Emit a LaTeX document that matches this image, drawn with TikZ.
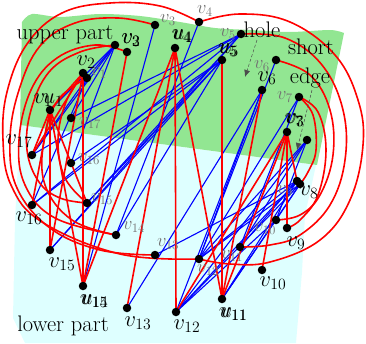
\documentclass[tikz,border=0pt]{standalone}
\usepackage{fix-cm}
\usetikzlibrary{arrows.meta}
\definecolor{gup}{RGB}{146,230,146}
\definecolor{clow}{RGB}{222,255,255}
\begin{document}
\begin{tikzpicture}[x=1pt,y=-1pt,
  dot/.style={circle,fill=black,inner sep=0pt,minimum size=8.5pt},
  bl/.style={font=\fontsize{22.5}{25}\selectfont,inner sep=0pt},
  sl/.style={font=\fontsize{18.5}{20}\selectfont,inner sep=0pt,text=black!55},
  txt/.style={font=\fontsize{22.5}{25}\selectfont,inner sep=0pt},
  be/.style={blue,line width=1.1pt},
  re/.style={red,line width=1.6pt},
  arc/.style={red,line width=1.6pt,smooth,tension=0.65},
  pointer/.style={densely dashed,line width=0.5pt,black!70,-{Latex[length=7pt,width=6pt]}}]
\useasboundingbox (0,0) rectangle (366,343);
% regions
\fill[clow] (20,125) -- (316,165) -- (305,215) -- (302,272) -- (296,343) -- (25,343) -- (13,318) -- (15,220) -- cycle;
\fill[gup] plot[smooth,tension=0.5] coordinates {(22,22) (32,14) (60,17) (100,14) (140,16) (180,22) (215,28) (250,30) (290,32) (330,30) (344,33)} -- (317,165) -- (20,125) -- cycle;
% coordinates of vertices
\coordinate (B1) at (50,110);
\coordinate (B2) at (83,73);
\coordinate (B3) at (115,45);
\coordinate (U4) at (175,48);
\coordinate (B5) at (222,60);
\coordinate (B6) at (262,90);
\coordinate (B7) at (287,132);
\coordinate (B8) at (297,181);
\coordinate (B9) at (287,228);
\coordinate (B10) at (262,270);
\coordinate (B11) at (222,299);
\coordinate (B12) at (176,312);
\coordinate (B13) at (127,308);
\coordinate (B14) at (83,286);
\coordinate (B15) at (50,250);
\coordinate (B16) at (32,205);
\coordinate (B17) at (32,155);
\coordinate (S1) at (87,78);
\coordinate (S2) at (127,52);
\coordinate (S3) at (155,25);
\coordinate (S4) at (199,22);
\coordinate (S5) at (241,34);
\coordinate (S6) at (276,60);
\coordinate (S7) at (299,97);
\coordinate (S8) at (307,140);
\coordinate (S9) at (300,184);
\coordinate (S10) at (276,220);
\coordinate (S11) at (240,247);
\coordinate (S12) at (199,259);
\coordinate (S13) at (155,255);
\coordinate (S14) at (116,235);
\coordinate (S15) at (87,203);
\coordinate (S16) at (71,163);
\coordinate (S17) at (71,118);
% blue edges
\foreach \a/\b in {B3/S1,B3/B1,B3/S17,B3/B17,B3/S16,S1/B17,S1/B16,S3/B14,S4/S14,
  B5/S16,B5/B16,B5/S15,B5/B15,B5/S14,S5/S17,S5/B17,S5/S15,S5/B15,S5/B16,
  S6/S12,B6/B12,B6/S12,S7/S12,S7/S11,B8/S12,B8/S11,B8/B11,B8/B12,B8/S13,
  S8/S12,S8/B12,S8/S11,S8/S10,S9/B12,S9/S12,S9/S10,B13/B6,B12/S10,B11/S10,B11/S9}
  \draw[be] (\a) -- (\b);
% red straight edges
\foreach \a/\b in {B1/B17,B1/B16,B1/B15,B1/B14,B1/S15,B2/B17,B2/B15,B2/B14,B2/B1,S2/B14,
  U4/B14,U4/B13,U4/B12,U4/B11,B5/B11,B6/B11,B7/B8,B7/B9,B7/B10,B7/B11,B7/B12}
  \draw[re] (\a) -- (\b);
% red curves bowing left from v2
\draw[arc] plot coordinates {(B2) (66,102) (58,140) (65,178) (S15)};
\draw[arc] plot coordinates {(S1) (58,100) (44,140) (45,185) (72,220) (S14)};
% red arcs round the left
\draw[arc] plot coordinates {(S4) (160,6) (110,3) (62,13) (27,44) (7,92) (3,140) (11,185) (42,222) (120,254) (S12)};
\draw[arc] plot coordinates {(S3) (118,18) (75,23) (40,46) (19,90) (10,140) (17,188) (50,228) (100,250) (S13)};
\draw[arc] plot coordinates {(S2) (95,45) (57,58) (31,90) (19,140) (25,185) (55,218) (S14)};
\draw[arc] plot coordinates {(B3) (80,52) (49,72) (31,110) (27,150) (39,182) (60,198) (S15)};
% red arcs round the right
\draw[arc] plot coordinates {(S4) (240,14) (290,22) (335,55) (358,100) (363,145) (350,200) (320,240) (270,262) (230,264) (S12)};
\draw[arc] plot coordinates {(S5) (285,38) (322,65) (343,110) (345,160) (330,205) (300,235) (270,245) (S11)};
\draw[arc] plot coordinates {(S6) (310,75) (330,110) (333,155) (320,195) (300,215) (S10)};
\draw[arc] plot coordinates {(S7) (318,112) (326,150) (318,195) (300,220) (B9)};
\draw[arc] plot coordinates {(S7) (313,115) (316,150) (308,172) (S9)};
% pointers
\coordinate (hp) at (257,40);
\coordinate (ha) at (245,77);
\draw[pointer] (hp) -- (ha);
\coordinate (ep) at (312,90);
\coordinate (ea) at (297,150);
\draw[pointer] (ep) -- (ea);
% dots
\foreach \n in {B1,B2,B3,U4,B5,B6,B7,B8,B9,B10,B11,B12,B13,B14,B15,B16,B17,
  S1,S2,S3,S4,S5,S6,S7,S8,S9,S10,S11,S12,S13,S14,S15,S16,S17}
  \node[dot] (d\n) at (\n) {};
% small labels
\node[sl] (lS1) at (99,73) {$v_1$};
\node[sl] (lS3) at (168,20) {$v_3$};
\node[sl] (lS4) at (205,11) {$v_4$};
\node[sl] (lS5) at (228,34) {$v_5$};
\node[sl] (lS6) at (262,66) {$v_6$};
\node[sl] (lS7) at (285,97) {$v_7$};
\node[sl] (lS9) at (285,191) {$v_9$};
\node[sl] (lS10) at (265,229) {$v_{10}$};
\node[sl] (lS11) at (232,256) {$v_{11}$};
\node[sl] (lS12) at (208,270) {$v_{12}$};
\node[sl] (lS13) at (168,244) {$v_{13}$};
\node[sl] (lS14) at (134,227) {$v_{14}$};
\node[sl] (lS15) at (102,199) {$v_{15}$};
\node[sl] (lS16) at (89,159) {$v_{16}$};
\node[sl] (lS17) at (90,123) {$v_{17}$};
% big labels
\node[bl] (lB1a) at (43,100) {$v_1$};
\node[bl] (lB1b) at (53,100) {$u_1$};
\node[bl] (lB2) at (86,62) {$v_2$};
\node[bl] (lB3a) at (131,40) {$v_3$};
\node[bl] (lB3b) at (131,40) {$v_2$};
\node[bl] (lU4a) at (182,36) {$u_4$};
\node[bl] (lU4b) at (182,36) {$v_4$};
\node[bl] (lB5a) at (228,50) {$v_5$};
\node[bl] (lB5b) at (228.5,50) {$u_5$};
\node[bl] (lB6) at (267,78) {$v_6$};
\node[bl] (lB7a) at (294,120) {$v_7$};
\node[bl] (lB7b) at (295,120) {$v_3$};
\node[bl] (lB8) at (309,192) {$v_8$};
\node[bl] (lB9) at (296,243) {$v_9$};
\node[bl] (lB10) at (273,283) {$v_{10}$};
\node[bl] (lB11a) at (233,314) {$u_{11}$};
\node[bl] (lB11b) at (234,314) {$v_{11}$};
\node[bl] (lB12) at (187,326) {$v_{12}$};
\node[bl] (lB13) at (138,323) {$v_{13}$};
\node[bl] (lB14a) at (94,301) {$u_{14}$};
\node[bl] (lB14b) at (94.5,301) {$v_{15}$};
\node[bl] (lB15) at (62,264) {$v_{15}$};
\node[bl] (lB16) at (29,218) {$v_{16}$};
\node[bl] (lB17) at (19,141) {$v_{17}$};
% texts
\node[txt] (up) at (65,35) {upper part};
\node[txt] (lp) at (63,326) {lower part};
\node[txt] (hole) at (262,30) {hole};
\node[txt] (short) at (311,47) {short};
\node[txt] (edge) at (310,78) {edge};
\end{tikzpicture}
\end{document}
